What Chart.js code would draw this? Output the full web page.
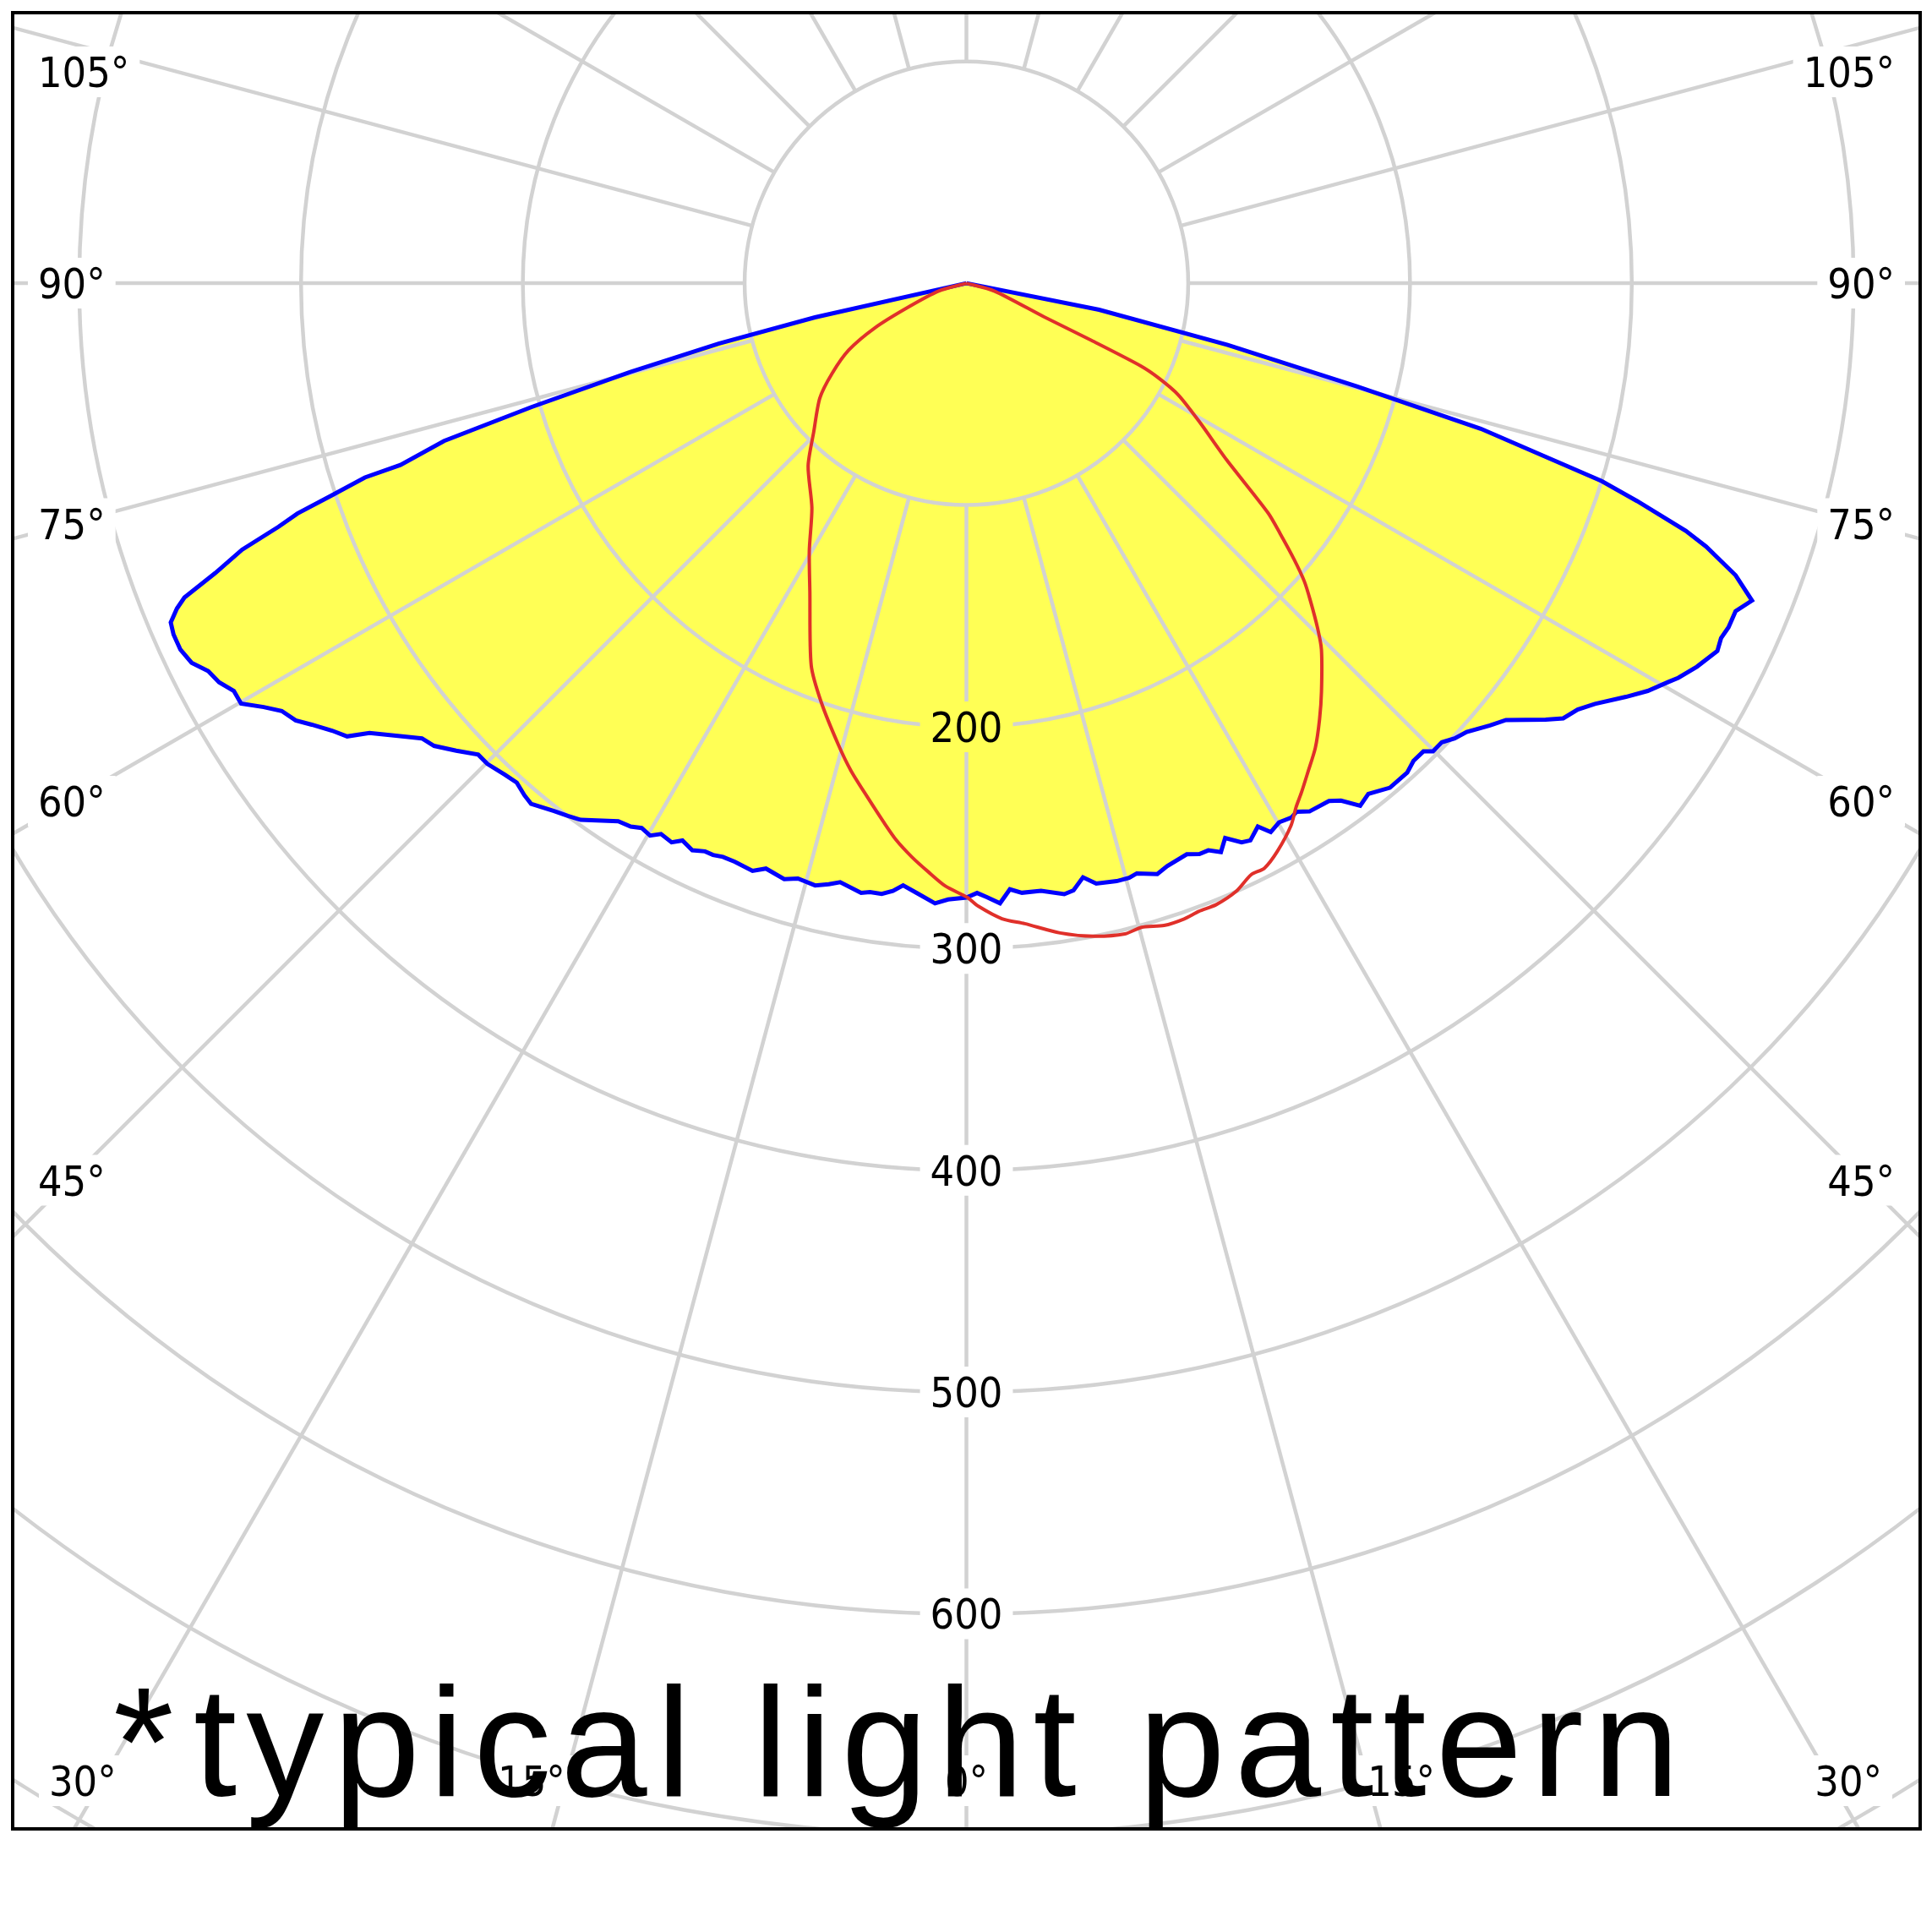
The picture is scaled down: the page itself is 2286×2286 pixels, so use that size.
<!DOCTYPE html>
<html>
<head>
<meta charset="utf-8">
<title>typical light pattern</title>
<script src="https://cdn.jsdelivr.net/npm/chart.js@4.4.1/dist/chart.umd.min.js"></script>
<style>
  html, body { margin: 0; padding: 0; background: #fff; }
  canvas { display: block; }
</style>
</head>
<body>
<canvas id="myChart" width="2286" height="2286"></canvas>
<script>
// gamma angle in degrees from nadir, minus = left half, values in cd/klm
var blueAngles = [-90, -77.3, -76.3, -75.2, -74.1, -73.2, -72.2, -72.1, -71.5, -71.0, -70.5, -69.8,
  -68.9, -68.1, -67.6, -66.9, -66.1, -65.0, -63.9, -62.9, -61.9, -60.9,
  -59.9, -58.9, -58.0, -56.9, -56.0, -54.8, -53.8, -53.0, -51.0, -50.1,
  -49.0, -47.5, -46.0, -44.9, -43.2, -42.0, -40.8, -39.9, -38.0, -36.8,
  -35.7, -32.9, -31.7, -30.8, -29.8, -29.0, -27.8, -27.0, -25.8, -24.7,
  -23.9, -23.0, -21.8, -20.0, -18.9, -17.0, -15.8, -14.1, -12.9, -11.9,
  -9.8, -9.0, -7.9, -6.9, -6.0, -4.6, -2.9, -1.7, 0, 1.0,
  1.9, 3.1, 4.1, 5.2, 7.0, 9.1, 10.0, 11.1, 12.2, 14.1,
  15.3, 16.1, 17.9, 19.0, 21.1, 22.2, 23.1, 24.1, 25.0, 26.2,
  27.0, 28.2, 29.0, 30.1, 31.3, 32.0, 33.0, 35.0, 35.9, 37.0,
  38.2, 40.0, 42.0, 43.1, 44.3, 44.9, 46.0, 47.0, 48.1, 49.8,
  51.0, 53.0, 53.9, 55.1, 56.2, 57.9, 59.1, 60.4, 61.0, 62.3,
  63.9, 64.8, 65.7, 66.9, 68.0, 69.2, 70.4, 71.0, 72.0, 72.7,
  74.2, 75.2, 76.7, 78.7, 90]
var blueValues = [0, 70, 115, 157, 204, 246, 268, 285, 302, 319, 329, 348,
  363, 380, 385, 390, 391, 391, 389, 384, 382, 378,
  378, 370, 364, 361, 356, 350, 346, 337, 325, 320,
  318, 312, 306, 306, 304, 303, 305, 306, 302, 300,
  298, 289, 288, 286, 287, 284, 285, 282, 284, 282,
  282, 281, 281, 282, 279, 281, 279, 280, 278, 276,
  279, 278, 278, 276, 273, 276, 280, 278, 277, 275,
  277, 280, 274, 276, 276, 279, 278, 273, 277, 278,
  278, 277, 280, 278, 276, 278, 278, 281, 276, 281,
  282, 278, 283, 281, 282, 281, 284, 285, 288, 295,
  293, 297, 297, 295, 295, 298, 298, 301, 303, 309,
  313, 327, 333, 336, 341, 351, 358, 364, 367, 372,
  377, 376, 377, 377, 382, 371, 354, 343, 318, 300,
  241, 182, 121, 61, 0]

var redAngles = [-90, -74.3, -67.5, -64.0, -60.4, -56.1, -51.9, -45.8, -40.9, -34.5,
  -30.4, -26.9, -22.1, -19.1, -15.5, -13.3, -10.9, -8.7, -7.2, -5.4,
  -3.7, -2.0, 0.1, 1.1, 3.2, 5.2, 8.2, 11.0, 13.7, 15.2,
  17.1, 18.9, 20.3, 21.9, 23.9, 25.7, 27.0, 28.7, 30.9, 32.2,
  33.3, 34.9, 36.9, 39.0, 41.0, 44.1, 45.5, 47.3, 48.6, 49.9,
  51.4, 52.7, 55.8, 59.3, 62.2, 63.7, 64.6, 65.4, 66.6, 74.4, 90]
var redValues = [0, 13, 29, 46, 61, 73, 84, 96, 109, 123,
  140, 156, 186, 200, 216, 226, 236, 246, 253, 260,
  266, 272, 277, 281, 287, 290, 296, 300, 302, 301,
  303, 303, 302, 302, 300, 296, 296, 292, 285, 279,
  275, 269, 262, 253, 244, 230, 222, 211, 203, 193,
  181, 171, 142, 122, 108, 97, 87, 62, 38, 13, 0]

var angleTicks = [0, 15, 30, 45, 60, 75, 90, 105]
var ringTicks = [100, 200, 300, 400, 500, 600, 700, 800, 900]
var ringLabels = [200, 300, 400, 500, 600]
var noteText = '*typical light pattern'

var labelFont = '50px "DejaVu Sans Condensed", "DejaVu Sans", sans-serif'
var gridColor = '#d2d2d2'

// polar -> chart x/y (0 deg points down)
function toXY(angles, values) {
  return angles.map(function (a, i) {
    var g = a * Math.PI / 180
    return { x: values[i] * Math.sin(g), y: -values[i] * Math.cos(g) }
  })
}
var bluePts = toXY(blueAngles, blueValues)
var redPts = toXY(redAngles, redValues)

function getLabels(chart) {
  var ctx = chart.ctx, a = chart.chartArea
  var cx = chart.scales.x.getPixelForValue(0), cy = chart.scales.y.getPixelForValue(0)
  ctx.save()
  ctx.font = labelFont
  var out = []
  angleTicks.forEach(function (t) {
    [-1, 1].forEach(function (side) {
      if (t === 0 && side > 0) return
      var g = t * Math.PI / 180, txt = t + '°', w = ctx.measureText(txt).width, x, y
      if (t >= 45) {
        var px = side < 0 ? a.left + 67 : a.right - 67
        y = cy + (px - cx) / (side * Math.sin(g)) * Math.cos(g)
        y = Math.max(y, a.top + 70)
        x = side < 0 ? a.left + 30 + w / 2 : a.right - 30 - w / 2
      } else {
        y = a.bottom - 57
        var sx = cx + side * (y - cy) * Math.tan(g)
        x = t === 0 ? sx : (side < 0 ? sx - w / 2 : sx + w / 2)
        x = Math.min(Math.max(x, a.left + 43 + w / 2), a.right - 45 - w / 2)
      }
      out.push({ text: txt, x: x, y: y, w: w })
    })
  })
  ringLabels.forEach(function (v) {
    var txt = String(v)
    out.push({ text: txt, x: cx, y: chart.scales.y.getPixelForValue(-v), w: ctx.measureText(txt).width })
  })
  ctx.restore()
  return out
}

var polarGrid = {
  id: 'polarGrid',
  afterDatasetDraw: function (chart, args) {
    if (args.index !== 0) return   // grid goes over the yellow but under the lines
    var ctx = chart.ctx, a = chart.chartArea
    var xs = chart.scales.x, ys = chart.scales.y
    var cx = xs.getPixelForValue(0), cy = ys.getPixelForValue(0)
    var k = (xs.getPixelForValue(100) - cx) / 100
    ctx.save()
    ctx.beginPath()
    ctx.rect(a.left, a.top, a.right - a.left, a.bottom - a.top)
    getLabels(chart).forEach(function (b) {
      ctx.rect(b.x - b.w / 2 - 12, b.y - 30, b.w + 24, 60)
    })
    ctx.clip('evenodd')
    ctx.strokeStyle = gridColor
    ctx.lineWidth = 4.5
    ringTicks.forEach(function (v) {
      ctx.beginPath()
      ctx.arc(cx, cy, v * k, 0, Math.PI * 2)
      ctx.stroke()
    })
    for (var d = 0; d < 360; d += 15) {
      var g = d * Math.PI / 180
      ctx.beginPath()
      ctx.moveTo(cx + Math.sin(g) * 100 * k, cy + Math.cos(g) * 100 * k)
      ctx.lineTo(cx + Math.sin(g) * 1000 * k, cy + Math.cos(g) * 1000 * k)
      ctx.stroke()
    }
    ctx.restore()
  },
  afterDatasetsDraw: function (chart) {
    var ctx = chart.ctx, a = chart.chartArea
    ctx.save()
    ctx.fillStyle = '#000'
    ctx.font = labelFont
    ctx.textAlign = 'center'
    ctx.textBaseline = 'alphabetic'
    getLabels(chart).forEach(function (b) {
      ctx.fillText(b.text, b.x, b.y + 18)
    })
    // big note, cut off by the frame
    ctx.beginPath()
    ctx.rect(a.left, a.top, a.right - a.left, a.bottom - a.top)
    ctx.clip()
    ctx.font = '184px "Liberation Sans", Arial, sans-serif'
    ctx.textAlign = 'left'
    ctx.fillText(noteText.charAt(0), 134, 2125)
    ctx.letterSpacing = '11.2px'
    ctx.fillText(noteText.slice(1), 229, 2125)
    ctx.restore()
    ctx.save()
    ctx.strokeStyle = '#000'
    ctx.lineWidth = 4
    ctx.strokeRect(a.left, a.top, a.right - a.left, a.bottom - a.top)
    ctx.restore()
  }
}

var myChart = new Chart(document.getElementById('myChart'), {
  type: 'scatter',
  data: {
    datasets: [{
      label: 'fill',
      data: bluePts,
      showLine: true,
      fill: 'shape',
      backgroundColor: '#ffff55',
      borderColor: 'rgba(0,0,0,0)',
      borderWidth: 1,
      pointRadius: 0,
      order: 3
    }, {
      label: 'C0-C180',
      data: bluePts,
      showLine: true,
      fill: false,
      borderColor: '#0000ff',
      borderWidth: 5,
      pointRadius: 0,
      order: 2
    }, {
      label: 'C90-C270',
      data: redPts,
      showLine: true,
      fill: false,
      tension: 0.25,
      borderColor: '#e0302a',
      borderWidth: 4,
      pointRadius: 0,
      order: 1
    }]
  },
  options: {
    responsive: false,
    animation: false,
    devicePixelRatio: 1,
    layout: { padding: { left: 15, top: 15, right: 14, bottom: 122 } },
    scales: {
      x: { type: 'linear', min: -430, max: 430, display: false },
      y: { type: 'linear', min: -697, max: 122, display: false }
    },
    plugins: { legend: { display: false }, tooltip: { enabled: false } }
  },
  plugins: [polarGrid]
})
</script>
</body>
</html>
